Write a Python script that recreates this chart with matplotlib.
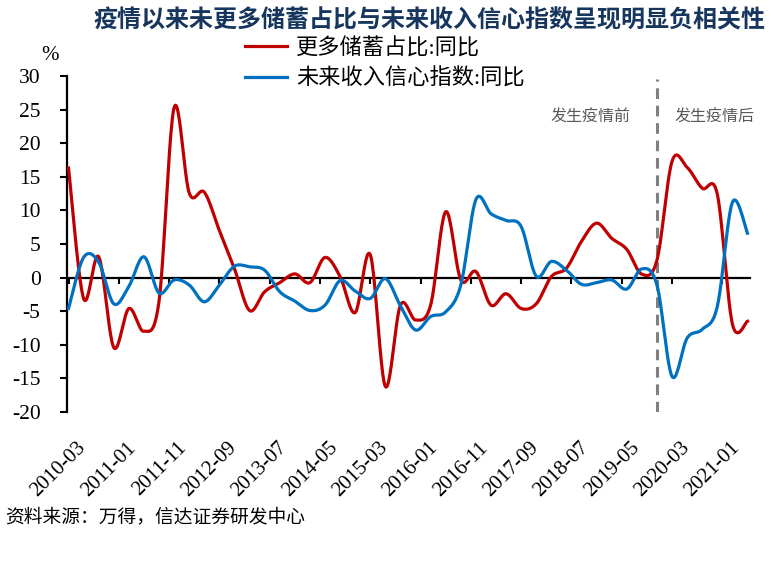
import matplotlib
matplotlib.use('Agg')
import matplotlib.pyplot as plt
import matplotlib.transforms as mtransforms
import numpy as np

# quarterly survey data, 2010-03 .. 2021-06 (x = months since 2010-03)
months = list(range(0, 136, 3))
savings_yoy = [16.3, -3.1, 3.1, -10.4, -4.6, -8.0, -3.5, 25.3,
               12.6, 12.7, 7.0, 1.3, -4.9, -2.1, -0.75, 0.55,
               -0.75, 3.0, 0.15, -5.2, 3.4, -16.2, -4.1, -6.3,
               -4.1, 9.8, -0.35, 0.9, -4.1, -2.4, -4.6, -3.9,
               0.15, 1.4, 5.4, 8.1, 5.85, 4.2, 0.5, 2.6,
               17.3, 16.4, 13.3, 12.4, -6.9, -6.5]
income_yoy = [-4.6, 3.0, 2.3, -3.9, -1.3, 3.1, -2.3, -0.35,
              -1.1, -3.6, -1.1, 1.7, 1.6, 1.1, -2.1, -3.5,
              -4.9, -4.1, -0.45, -2.0, -3.1, -0.15, -4.2, -7.8,
              -5.8, -5.1, -1.1, 11.6, 9.5, 8.5, 7.6, 0.2,
              2.4, 1.1, -1.0, -0.75, -0.35, -1.7, 1.3, -1.1,
              -14.7, -9.0, -7.7, -4.3, 11.2, 6.6]
tick_months = list(range(0, 131, 10))
tick_labels = ['2010-03', '2011-01', '2011-11', '2012-09', '2013-07', '2014-05', '2015-03',
               '2016-01', '2016-11', '2017-09', '2018-07', '2019-05', '2020-03', '2021-01']
covid_month = 117
yticks = list(range(-20, 31, 5))

serif = ['Liberation Serif', 'Noto Sans CJK SC']
cjk = ['Noto Sans CJK SC', 'DejaVu Sans']


def smooth(x, y, n=24):
    # excel-like smoothed line (bezier through the points)
    x = np.asarray(x, float)
    y = np.asarray(y, float)
    px = np.concatenate([[x[0]], x, [x[-1]]])
    py = np.concatenate([[y[0]], y, [y[-1]]])
    t = np.linspace(0, 1, n)[:, None]
    xs, ys = [], []
    for i in range(1, len(px) - 2):
        p0 = np.array([px[i], py[i]])
        p3 = np.array([px[i + 1], py[i + 1]])
        c1 = p0 + (np.array([px[i + 1], py[i + 1]]) - np.array([px[i - 1], py[i - 1]])) / 6
        c2 = p3 - (np.array([px[i + 2], py[i + 2]]) - np.array([px[i], py[i]])) / 6
        b = (1 - t) ** 3 * p0 + 3 * (1 - t) ** 2 * t * c1 + 3 * (1 - t) * t ** 2 * c2 + t ** 3 * p3
        xs.append(b[:, 0])
        ys.append(b[:, 1])
    return np.concatenate(xs), np.concatenate(ys)


fig = plt.figure(figsize=(7.71, 5.82), dpi=100)
ax = fig.add_axes([67 / 771, 1 - 412 / 582, (750 - 67) / 771, (412 - 76) / 582])

sx, sy = smooth(months, savings_yoy)
l1, = ax.plot(sx, sy, color='#C00000', lw=2.3, label='更多储蓄占比:同比', zorder=3)
ix, iy = smooth(months, income_yoy)
l2, = ax.plot(ix, iy, color='#0070C0', lw=2.3, label='未来收入信心指数:同比', zorder=3)

ax.vlines(covid_month, -20, 29.6, colors='#808080', lw=2.2, linestyles=(0, (3.5, 2.2)), zorder=2)

ax.set_xlim(-0.3, 135.5)
ax.set_ylim(-20, 30)

for s in ['top', 'right']:
    ax.spines[s].set_visible(False)
ax.spines['left'].set_linewidth(1.6)
ax.spines['bottom'].set_position(('data', 0))
ax.spines['bottom'].set_linewidth(1.6)
ax.set_xticks(tick_months)
ax.tick_params(axis='x', direction='out', length=4, width=1.5, labelbottom=False)
ax.set_yticks(yticks)
ax.set_yticklabels([str(v) for v in yticks], family=serif, fontsize=15.5)
ax.tick_params(axis='y', direction='out', length=5, width=1.5, pad=14)

sec = ax.secondary_xaxis(0.0)
sec.spines['bottom'].set_visible(False)
sec.set_xticks(tick_months)
sec.set_xticklabels(tick_labels, rotation=45, ha='right', rotation_mode='anchor',
                    family=serif, fontsize=15)
sec.tick_params(axis='x', length=0, pad=19)
shift = mtransforms.ScaledTranslation(8 / 100, 0, fig.dpi_scale_trans)
for lab in sec.get_xticklabels():
    lab.set_transform(lab.get_transform() + shift)

ax.text(103.7, 23.9, '发生疫情前', family=cjk, fontsize=11.5, color='#595959',
        ha='center', va='center')
ax.text(128.5, 23.9, '发生疫情后', family=cjk, fontsize=11.5, color='#595959',
        ha='center', va='center')

fig.text(50 / 771, 1 - 55 / 582, '%', family=serif, fontsize=15, ha='center', va='center')
fig.text(429 / 771, 1 - 20 / 582, '疫情以来未更多储蓄占比与未来收入信心指数呈现明显负相关性',
         family=cjk, fontsize=17.3, fontweight='bold', color='#17365D', ha='center', va='center')

fig.legend(handles=[l1, l2], loc='upper left', bbox_to_anchor=(245 / 771, 1 - 38 / 582),
           frameon=False, prop={'family': serif, 'size': 16}, handlelength=1.9,
           handletextpad=0.4, labelspacing=0.42, borderpad=0, borderaxespad=0)

fig.text(5 / 771, 1 - 517 / 582, '资料来源：万得，信达证券研发中心', family=cjk, fontsize=13.5,
         style='italic', ha='left', va='center')

fig.savefig('out.png', dpi=100)
